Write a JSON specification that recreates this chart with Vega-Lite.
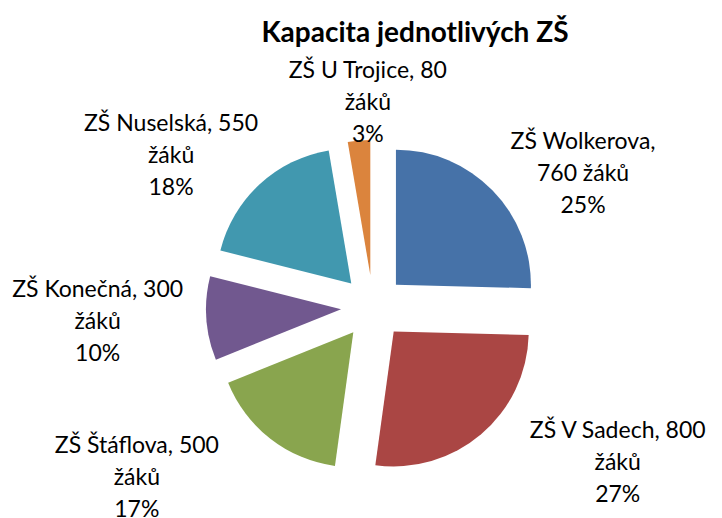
{
  "$schema": "https://vega.github.io/schema/vega-lite/v6.json",
  "autosize": "none",
  "width": 698,
  "height": 420,
  "padding": {"left": 24, "right": 0, "top": 97, "bottom": 1},
  "background": "white",
  "view": {"stroke": null},
  "title": {
    "text": "Kapacita jednotlivých ZŠ",
    "font": "Lato",
    "fontSize": 28,
    "fontWeight": "bold",
    "color": "#000000",
    "anchor": "middle",
    "frame": "group",
    "baseline": "alphabetic",
    "dx": 42,
    "dy": 34,
    "offset": 24
  },
  "data": {
    "values": [
      {"nazev": "ZŠ Wolkerova", "kapacita": 760, "poradi": 1, "popisek": ["ZŠ Wolkerova,", "760 žáků", "25%"]},
      {"nazev": "ZŠ V Sadech", "kapacita": 800, "poradi": 2, "popisek": ["ZŠ V Sadech, 800", "žáků", "27%"]},
      {"nazev": "ZŠ Štáflova", "kapacita": 500, "poradi": 3, "popisek": ["ZŠ Štáflova, 500", "žáků", "17%"]},
      {"nazev": "ZŠ Konečná", "kapacita": 300, "poradi": 4, "popisek": ["ZŠ Konečná, 300", "žáků", "10%"]},
      {"nazev": "ZŠ Nuselská", "kapacita": 550, "poradi": 5, "popisek": ["ZŠ Nuselská, 550", "žáků", "18%"]},
      {"nazev": "ZŠ U Trojice", "kapacita": 80, "poradi": 6, "popisek": ["ZŠ U Trojice, 80", "žáků", "3%"]}
    ]
  },
  "encoding": {
    "theta": {"field": "kapacita", "type": "quantitative", "stack": true},
    "order": {"field": "poradi", "type": "quantitative"},
    "color": {
      "field": "nazev",
      "type": "nominal",
      "scale": {
        "domain": ["ZŠ Wolkerova", "ZŠ V Sadech", "ZŠ Štáflova", "ZŠ Konečná", "ZŠ Nuselská", "ZŠ U Trojice"],
        "range": ["#4672A8", "#AA4644", "#89A54E", "#71588F", "#4198AF", "#DB843D"]
      },
      "legend": null
    }
  },
  "layer": [
    {
      "mark": {
        "type": "arc",
        "outerRadius": 135,
        "stroke": null,
        "xOffset": {"expr": "32*sin((scale('theta', datum.kapacita_start)+scale('theta', datum.kapacita_end))/2)"},
        "yOffset": {"expr": "-32*cos((scale('theta', datum.kapacita_start)+scale('theta', datum.kapacita_end))/2)"}
      }
    },
    {
      "mark": {
        "type": "text",
        "radius": 205,
        "font": "Lato",
        "fontSize": 23,
        "lineHeight": 32,
        "align": "center",
        "baseline": "middle",
        "color": "#000000",
        "dy": {"expr": "-32 + 20*max(0, sin(scale('theta', datum.kapacita_start)+scale('theta', datum.kapacita_end))/2)"},
        "dx": {"expr": "(67 - 50.6*cos((scale('theta', datum.kapacita_start)+scale('theta', datum.kapacita_end))/2) + 116.2*pow(cos((scale('theta', datum.kapacita_start)+scale('theta', datum.kapacita_end))/2), 2) - 1400*max(0, cos((scale('theta', datum.kapacita_start)+scale('theta', datum.kapacita_end))/2) - 0.8)) * sin((scale('theta', datum.kapacita_start)+scale('theta', datum.kapacita_end))/2)"}
      },
      "encoding": {
        "text": {"field": "popisek"},
        "color": {"value": "#000000"}
      }
    }
  ]
}
